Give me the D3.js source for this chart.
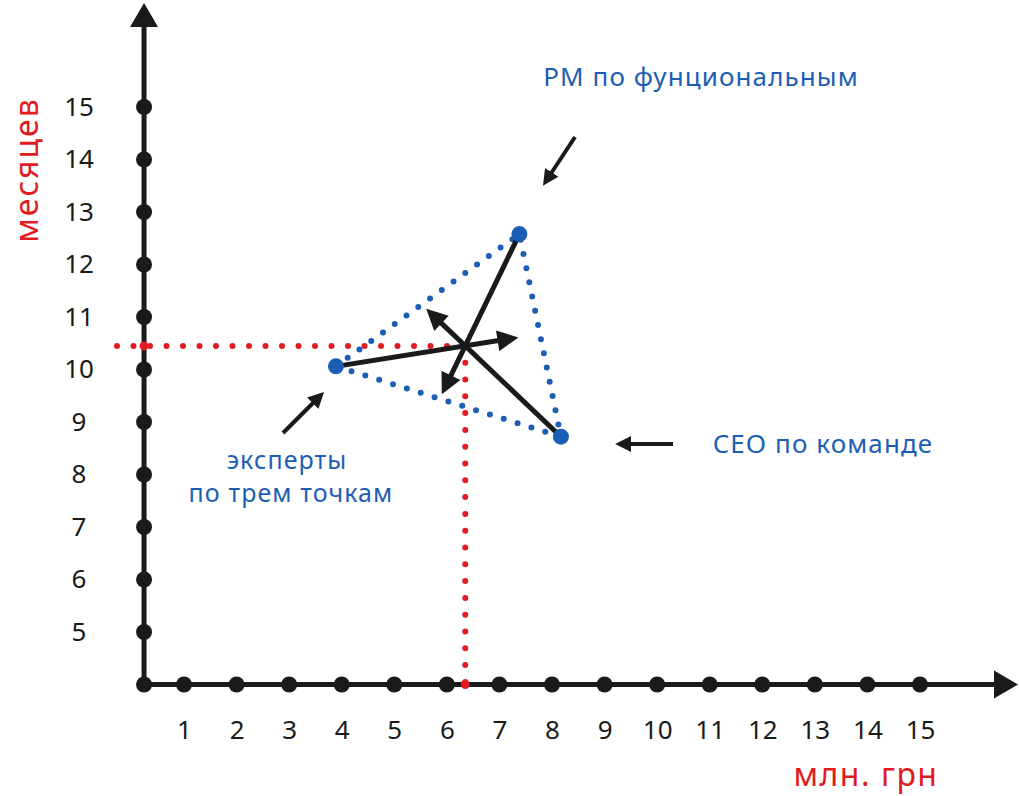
<!DOCTYPE html>
<html><head><meta charset="utf-8">
<script src="https://cdn.jsdelivr.net/npm/d3@7"></script>
<style>body{margin:0;background:#fff}svg{display:block}</style>
</head><body>
<svg id="c" width="1019" height="796"></svg>
<script>
const xTicks = [1,2,3,4,5,6,7,8,9,10,11,12,13,14,15];
const yTicks = [5,6,7,8,9,10,11,12,13,14,15];
const xAxisStart = 0.24, yAxisStart = 4;
const pointNames = ["эксперты", "PM", "CEO"];
const pointX = [3.89, 7.38, 8.17];
const pointY = [10.06, 12.58, 8.72];
const resultX = 6.35, resultY = 10.45;
const xTitle = "млн. грн", yTitle = "месяцев";

const svg = d3.select("#c");
const x = d3.scaleLinear().domain([1,15]).range([184,920]);
const y = d3.scaleLinear().domain([5,15]).range([632,107]);
const black = "#1a1a1a", blue = "#1d5eb5", red = "#e01b22";
const font = "'Noto Sans', sans-serif";

const defs = svg.append("defs");
defs.append("marker").attr("id","ah").attr("viewBox","0 0 10 10").attr("refX",2).attr("refY",5)
  .attr("markerWidth",4.4).attr("markerHeight",4.2).attr("markerUnits","strokeWidth").attr("orient","auto")
  .append("path").attr("d","M0,0 L10,5 L0,10 z").attr("fill",black);
defs.append("marker").attr("id","ah2").attr("viewBox","0 0 10 10").attr("refX",2).attr("refY",5)
  .attr("markerWidth",4).attr("markerHeight",4).attr("markerUnits","strokeWidth").attr("orient","auto")
  .append("path").attr("d","M0,0 L10,5 L0,10 z").attr("fill",black);

const x0 = x(xAxisStart), y0 = y(yAxisStart);

// axes lines
svg.append("line").attr("x1",x0).attr("y1",y0).attr("x2",x0).attr("y2",26)
  .attr("stroke",black).attr("stroke-width",5);
svg.append("path").attr("d",`M${x0-14},27 L${x0},3 L${x0+14},27 z`).attr("fill",black);
svg.append("line").attr("x1",x0).attr("y1",y0).attr("x2",995).attr("y2",y0)
  .attr("stroke",black).attr("stroke-width",5);
svg.append("path").attr("d",`M994,${y0-14} L1018,${y0} L994,${y0+14} z`).attr("fill",black);

// tick labels via d3 axes
const gx = svg.append("g").attr("transform",`translate(0,${y0})`)
  .call(d3.axisBottom(x).tickValues(xTicks).tickSize(0).tickPadding(36).tickFormat(d3.format("d")));
gx.select(".domain").remove();
gx.selectAll("text").attr("font-size",26).attr("font-family",font).attr("fill",black);
const gy = svg.append("g").attr("transform",`translate(79,0)`)
  .call(d3.axisLeft(y).tickValues(yTicks).tickSize(0).tickPadding(0).tickFormat(d3.format("d")));
gy.select(".domain").remove();
gy.selectAll("text").attr("font-size",26).attr("font-family",font).attr("fill",black).attr("text-anchor","middle");

// red dotted guide lines
const rx = x(resultX), ry = y(resultY);
svg.append("line").attr("x1",117).attr("y1",ry).attr("x2",rx).attr("y2",ry)
  .attr("stroke",red).attr("stroke-width",6).attr("stroke-linecap","round").attr("stroke-dasharray","0 16.5");
svg.append("line").attr("x1",rx).attr("y1",ry).attr("x2",rx).attr("y2",y0+12)
  .attr("stroke",red).attr("stroke-width",6).attr("stroke-linecap","round").attr("stroke-dasharray","0 16.8");

// axis dots
svg.selectAll(".xd").data([xAxisStart].concat(xTicks)).enter().append("circle")
  .attr("cx",d=>x(d)).attr("cy",y0).attr("r",8).attr("fill",black);
svg.selectAll(".yd").data(yTicks).enter().append("circle")
  .attr("cx",x0).attr("cy",d=>y(d)).attr("r",8).attr("fill",black);
svg.append("circle").attr("cx",x0).attr("cy",ry).attr("r",4.5).attr("fill",red);
svg.append("circle").attr("cx",rx).attr("cy",y0).attr("r",4.5).attr("fill",red);

// blue dotted triangle
const pts = pointX.map((v,i)=>[x(v), y(pointY[i])]);
svg.append("path").attr("d", d3.line()(pts.concat([pts[0]])))
  .attr("fill","none").attr("stroke",blue).attr("stroke-width",6).attr("stroke-linecap","round")
  .attr("stroke-dasharray","0 14.5");

// black arrows through result point
pts.forEach(p=>{
  const dx = rx-p[0], dy = ry-p[1], L = Math.hypot(dx,dy);
  const ux = dx/L, uy = dy/L;
  const tx = rx+ux*37, ty = ry+uy*37;
  svg.append("line").attr("x1",p[0]).attr("y1",p[1]).attr("x2",tx).attr("y2",ty)
    .attr("stroke",black).attr("stroke-width",5).attr("marker-end","url(#ah)");
});

// points
svg.selectAll(".pt").data(pts).enter().append("circle")
  .attr("cx",d=>d[0]).attr("cy",d=>d[1]).attr("r",8).attr("fill",blue);

// labels
function txt(s,xx,yy,fs){
  svg.append("text").attr("x",xx).attr("y",yy).attr("text-anchor","middle")
    .attr("font-family",font).attr("font-size",fs||26).attr("letter-spacing",1.1).attr("fill",blue).text(s);
}
txt("PM по фунциональным",701,86);
txt("CEO по команде",823,453);
txt("эксперты",287,469,25);
txt("по трем точкам",291,502,25);

function pointer(x1,y1,x2,y2){
  svg.append("line").attr("x1",x1).attr("y1",y1).attr("x2",x2).attr("y2",y2)
    .attr("stroke",black).attr("stroke-width",4).attr("marker-end","url(#ah2)");
}
pointer(575,137,550,175);
pointer(673,444,628,444);
pointer(283,433,315,401);

// axis titles
svg.append("text").attr("transform","translate(38,170) rotate(-90)").attr("text-anchor","middle")
  .attr("font-family",font).attr("font-size",32).attr("letter-spacing",2).attr("fill",red).text(yTitle);
svg.append("text").attr("x",866).attr("y",786).attr("text-anchor","middle")
  .attr("font-family",font).attr("font-size",32).attr("letter-spacing",1.5).attr("fill",red).text(xTitle);
</script>
</body></html>
